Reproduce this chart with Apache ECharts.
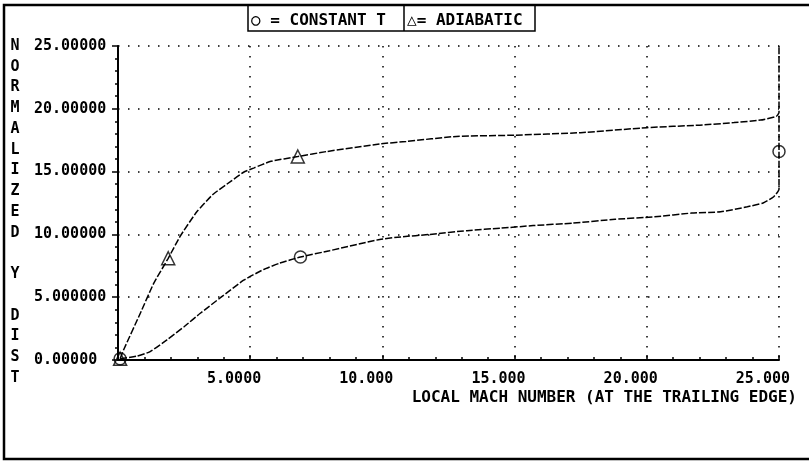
<!DOCTYPE html>
<html>
<head>
<meta charset="utf-8">
<script src="https://cdn.jsdelivr.net/npm/echarts@6/dist/echarts.min.js"></script>
<style>
  html, body { margin: 0; padding: 0; background: #fff; }
  #chart { width: 809px; height: 462px; }
</style>
</head>
<body>
<div id="chart"></div>
<script>
// Tick labels as printed on each axis
const xTickValues = [5, 10, 15, 20, 25];
const xTickLabels = ['5.0000', '10.000', '15.000', '20.000', '25.000'];
const yTickValues = [0, 5, 10, 15, 20, 25];
const yTickLabels = ['0.00000', '5.000000', '10.00000', '15.00000', '20.00000', '25.00000'];

// Constant-temperature wall: local Mach number vs normalized y distance
const constTMach = [0.08, 0.7, 1.2, 1.85, 2.5, 3.1, 3.9, 4.75, 5.5, 6.1, 6.9, 8.0, 9.9, 10.7, 11.8, 13.2, 14.5, 15.7, 17.2, 18.8, 20.3, 21.7, 22.8, 23.8, 24.4, 24.8, 25.0, 25.0, 25.0];
const constTDist = [0.1, 0.3, 0.65, 1.6, 2.65, 3.7, 5.0, 6.35, 7.2, 7.7, 8.2, 8.7, 9.6, 9.8, 10.0, 10.3, 10.5, 10.7, 10.9, 11.2, 11.4, 11.7, 11.8, 12.2, 12.5, 13.0, 13.6, 16.6, 19.6];

// Adiabatic wall
const adiaMach = [0.08, 0.21, 0.84, 1.35, 1.9, 2.35, 2.98, 3.6, 4.25, 4.75, 5.15, 5.75, 6.8, 7.9, 9.9, 10.9, 12.8, 15.0, 17.5, 20.0, 22.0, 23.3, 24.3, 24.9, 25.0, 25.0];
const adiaDist = [0.1, 0.8, 3.7, 6.1, 8.1, 9.85, 11.8, 13.2, 14.2, 14.95, 15.3, 15.8, 16.2, 16.6, 17.2, 17.4, 17.8, 17.9, 18.1, 18.5, 18.7, 18.9, 19.1, 19.4, 19.7, 25.5];

// Marked points on each curve
const constTMarkMach = [0.08, 6.9, 25.0];
const constTMarkDist = [0.1, 8.2, 16.6];
const adiaMarkMach = [0.08, 1.9, 6.8, 25.0];
const adiaMarkDist = [0.1, 8.1, 16.2, 25.5];

const pairs = (xs, ys) => xs.map((x, i) => [x, ys[i]]);

const FONT = 'DejaVu Sans Mono';
const INK = '#000';

const chart = echarts.init(document.getElementById('chart'));

const dottedGrid = {
  show: true,
  lineStyle: { color: INK, width: 1.5, type: [1.5, 8.5] }
};

chart.setOption({
  backgroundColor: '#fff',
  animation: false,
  grid: { left: 118, right: 30, top: 46, bottom: 102 },
  xAxis: {
    type: 'value',
    min: 0,
    max: 25,
    interval: 5,
    axisLine: { show: true, onZero: false, lineStyle: { color: INK, width: 2 } },
    axisTick: { show: true, inside: true, length: 5, lineStyle: { color: INK, width: 1.5 } },
    minorTick: { show: true, splitNumber: 5, length: 3, lineStyle: { color: INK, width: 1.5 } },
    splitLine: dottedGrid,
    axisLabel: {
      color: INK,
      fontFamily: FONT,
      fontWeight: 'bold',
      fontSize: 15,
      margin: 12,
      align: 'right',
      padding: [0, -11, 0, 0],
      formatter: v => {
        const i = xTickValues.indexOf(v);
        return i >= 0 ? xTickLabels[i] : '';
      }
    }
  },
  yAxis: {
    type: 'value',
    min: 0,
    max: 25,
    interval: 5,
    axisLine: { show: true, onZero: false, lineStyle: { color: INK, width: 2 } },
    axisTick: { show: true, length: 6, lineStyle: { color: INK, width: 1.5 } },
    minorTick: { show: true, splitNumber: 5, length: 3, lineStyle: { color: INK, width: 1.5 } },
    splitLine: dottedGrid,
    axisLabel: {
      color: INK,
      fontFamily: FONT,
      fontWeight: 'bold',
      fontSize: 15,
      margin: 84,
      align: 'left',
      formatter: v => {
        const i = yTickValues.indexOf(v);
        return i >= 0 ? yTickLabels[i] : '';
      }
    }
  },
  series: [
    {
      name: 'CONSTANT T',
      type: 'line',
      data: pairs(constTMach, constTDist),
      symbol: 'none',
      smooth: 0.15,
      lineStyle: { color: INK, width: 1.5, type: [7, 2] },
      z: 3
    },
    {
      name: 'ADIABATIC',
      type: 'line',
      data: pairs(adiaMach, adiaDist),
      symbol: 'none',
      smooth: 0.15,
      lineStyle: { color: INK, width: 1.5, type: [7, 2] },
      z: 3
    },
    {
      name: 'CONSTANT T marks',
      type: 'scatter',
      data: pairs(constTMarkMach, constTMarkDist),
      symbol: 'circle',
      symbolSize: 12,
      itemStyle: { color: 'rgba(0,0,0,0)', borderColor: INK, borderWidth: 1.5 },
      z: 4
    },
    {
      name: 'ADIABATIC marks',
      type: 'scatter',
      data: pairs(adiaMarkMach, adiaMarkDist),
      symbol: 'triangle',
      symbolSize: 13,
      itemStyle: { color: 'rgba(0,0,0,0)', borderColor: INK, borderWidth: 1.5 },
      z: 4
    }
  ],
  graphic: [
    // outer frame (left, top, bottom)
    {
      type: 'polyline',
      shape: { points: [[809, 5], [4, 5], [4, 459], [809, 459]] },
      style: { stroke: INK, lineWidth: 2.5, fill: null },
      silent: true
    },
    // key box with divider
    {
      type: 'polyline',
      shape: { points: [[248, 5], [248, 31], [535, 31], [535, 5]] },
      style: { stroke: INK, lineWidth: 1.5, fill: null },
      silent: true
    },
    {
      type: 'line',
      shape: { x1: 404, y1: 5, x2: 404, y2: 31 },
      style: { stroke: INK, lineWidth: 1.5 },
      silent: true
    },
    {
      type: 'text',
      x: 251, y: 21,
      style: {
        text: '\u25CB = CONSTANT T',
        fill: INK, font: 'bold 16px "DejaVu Sans Mono"',
        textAlign: 'left', textVerticalAlign: 'middle'
      }
    },
    {
      type: 'text',
      x: 407, y: 21,
      style: {
        text: '\u25B3= ADIABATIC',
        fill: INK, font: 'bold 16px "DejaVu Sans Mono"',
        textAlign: 'left', textVerticalAlign: 'middle'
      }
    },
    // vertical y-axis title
    {
      type: 'text',
      x: 15, y: 35.6,
      style: {
        text: 'NORMALIZED Y DIST'.split('').join('\n'),
        fill: INK, font: 'bold 15px "DejaVu Sans Mono"',
        lineHeight: 20.75,
        textAlign: 'center', textVerticalAlign: 'top'
      }
    },
    // x-axis title
    {
      type: 'text',
      x: 797, y: 398,
      style: {
        text: 'LOCAL MACH NUMBER (AT THE TRAILING EDGE)',
        fill: INK, font: 'bold 16px "DejaVu Sans Mono"',
        textAlign: 'right', textVerticalAlign: 'middle'
      }
    }
  ]
});
</script>
</body>
</html>
